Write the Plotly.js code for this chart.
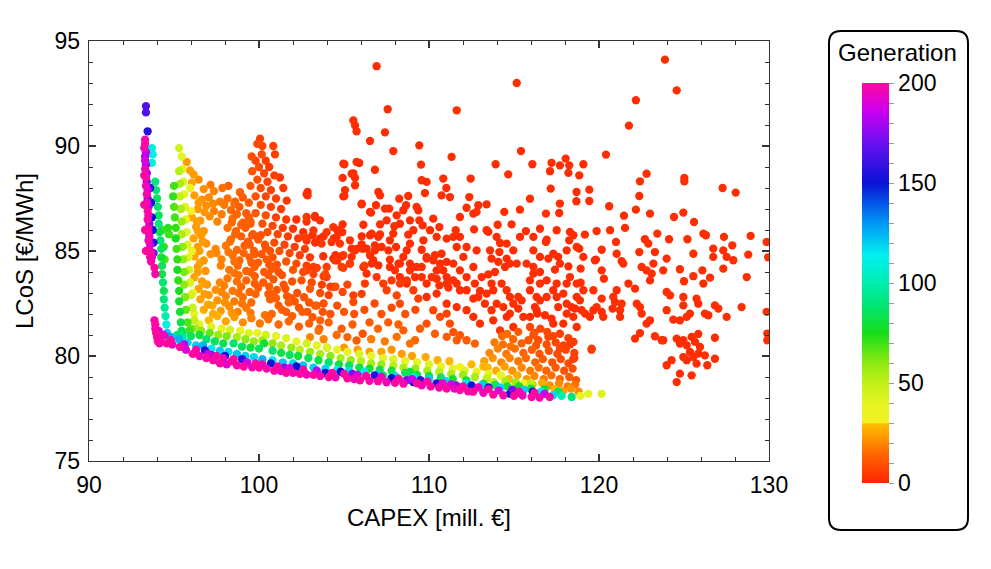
<!DOCTYPE html>
<html><head><meta charset="utf-8">
<script src="https://cdn.plot.ly/plotly-3.0.1.min.js"></script>
<style>html,body{margin:0;padding:0;background:#fff}#chart{width:991px;height:569px}</style>
</head><body><div id="chart"></div>
<script>
// ---------- tick labels ----------
const xTickVals = [90, 100, 110, 120, 130];
const yTickVals = [75, 80, 85, 90, 95];
const genTickVals = [0,10,20,30,40,50,60,70,80,90,100,110,120,130,140,150,160,170,180,190,200];
const genTickText = ['0','','','','','50','','','','','100','','','','','150','','','','','200'];

// ---------- data: [CAPEX, LCoS, generation] ----------
const leftColumn = [
[93.35,91.9,165],[93.35,91.6,165],[93.45,90.7,155],
[93.3,90.3,195],[93.3,90.1,200],[93.25,89.9,195],[93.35,89.7,185],[93.3,89.5,180],[93.3,89.3,190],[93.35,89.1,178],
[93.3,88.9,195],[93.4,88.7,182],[93.35,88.5,198],[93.4,88.3,175],[93.35,88.1,195],[93.45,87.9,185],[93.4,87.7,198],
[93.45,87.5,170],[93.4,87.3,195],[93.5,87.1,180],[93.45,86.9,200],[93.5,86.7,190],[93.45,86.5,198],[93.55,86.3,175],
[93.5,86.1,195],[93.5,85.9,200],[93.55,85.7,190],[93.5,85.5,198],[93.6,85.3,185],[93.55,85.1,195],[93.65,84.9,200],
[93.6,84.7,195],[93.65,84.5,198],[93.25,88.6,200],[93.25,87.2,200],[93.3,86.0,200],[93.35,85.0,200],
[93.6,88.0,158],[93.65,87.3,155],[93.7,86.6,150],[93.75,86.0,152],[93.8,85.4,155],[93.8,84.9,170],[93.7,84.7,190],
[93.85,84.2,200],[93.9,83.9,198],[93.7,89.9,110],[93.75,89.6,112],[93.7,89.2,108],
[93.85,81.7,198],[93.9,81.5,200],[93.9,81.3,195],[93.95,81.1,200],[94.0,80.9,198],[94.05,80.7,200],[94.1,81.2,190],[94.15,80.6,195]
];
const greenColumn = [
[93.9,88.3,90],[93.95,87.9,88],[94.0,87.5,85],[94.05,87.1,88],[94.1,86.7,85],[94.1,86.3,90],[94.15,85.9,82],[94.2,85.5,88],
[94.25,85.1,85],[94.25,84.7,80],[94.3,84.3,85],[94.3,83.9,82],[94.35,83.5,88],[94.4,83.1,84],[94.4,82.7,90],[94.45,82.3,95],
[94.5,81.9,100],[94.55,81.5,110],[94.6,81.1,120],[94.7,80.9,130],[94.3,86.0,70],[94.4,85.2,72],[94.45,84.6,68],
[94.65,86.1,72],[94.7,85.8,70]
];
const yellowColumn = [
[95.0,88.1,70],[94.95,87.6,72],[95.0,87.1,68],[95.05,86.6,70],[95.1,86.1,72],[95.1,85.6,75],[95.15,85.1,70],[95.2,84.6,72],
[95.2,84.1,75],[95.25,83.6,72],[95.3,83.1,75],[95.3,82.6,78],[95.35,82.1,80],[95.4,81.6,82],[95.45,81.2,85],[95.2,81.0,90],[95.5,80.9,95],
[95.3,88.8,52],[95.35,88.2,55],[95.35,87.6,50],[95.4,87.0,55],[95.45,86.4,58],[95.45,85.8,55],[95.5,85.2,60],[95.55,84.6,58],
[95.6,84.0,62],[95.6,83.4,60],[95.65,82.8,62],[95.7,82.2,65],[95.8,81.6,68],[95.9,81.2,70],
[95.3,89.9,45],[95.45,89.5,40],[95.5,88.9,38],[95.55,88.3,42],[95.6,87.7,40],[95.65,87.1,42],[95.7,86.5,38],[95.75,85.9,40],
[95.8,85.3,42],[95.85,84.7,40],[95.9,84.1,45],[95.95,83.5,42],[96.0,82.9,45],[96.1,82.3,48],[96.2,81.7,50],[96.3,81.3,55],
[95.95,88.0,32],[96.0,86.9,31],[96.05,85.0,32],[96.1,83.0,33],[96.2,82.0,34]
];
const spikeRidge = [
[100.06,90.35,6],[99.9,90.1,8],[100.2,90.0,7],[100.84,90.0,6],[100.94,89.6,6],[99.57,89.5,9],[100.16,89.6,8],[99.8,89.3,7],
[100.4,89.3,6],[100.0,89.0,8],[100.6,89.0,5],[99.6,88.8,10],[100.3,88.7,7],[100.9,88.6,6],[99.9,88.4,9],[100.5,88.3,7],
[101.23,88.5,4],[99.5,88.1,11],[100.1,88.0,8],[100.7,87.9,6],[101.43,88.0,4],[99.8,87.6,10],[100.4,87.6,8],[101.0,87.5,6],
[101.63,87.4,4],[99.4,87.3,12],[100.1,87.2,9],[100.7,87.1,7],[101.3,87.0,5],[99.8,86.8,11],[100.4,86.7,9],[101.0,86.6,6],
[101.6,86.5,5],[99.5,86.4,13],[100.2,86.3,10],[100.8,86.2,7],[101.4,86.1,5],[102.0,86.06,4],
[100.5,85.9,9],[101.1,85.8,7],[101.7,85.7,6],[102.3,85.6,4],[100.9,85.4,9],[101.5,85.3,7],[102.1,85.2,6],[102.7,85.1,5],
[101.2,85.0,10],[101.8,84.9,8],[102.4,84.8,6],[103.0,84.7,5],[101.6,84.5,10],[102.2,84.4,8],[102.8,84.3,6],[103.4,84.2,5],
[102.0,84.1,11],[102.6,84.0,8],[103.2,83.9,7],[103.8,83.8,5],[102.5,83.6,10],[103.1,83.5,8],[103.7,83.4,6],[104.2,83.3,5],
[103.0,83.2,11],[103.6,83.0,9],[104.1,82.9,7],
[102.8,86.62,4],[104.37,86.14,3],[103.98,85.9,4],[103.2,85.98,4],[102.7,85.67,5],[103.68,85.35,4],[104.27,85.43,3],
[104.76,85.35,3],[105.35,85.51,3],[105.65,85.03,3],[103.2,84.24,5],[102.8,84.08,6],[104.96,84.8,4],[105.45,84.72,3],
[104.47,84.56,4],[104.86,84.24,5],[103.98,84.24,5],[103.98,83.76,6]
];
const orangeCloud = [
[95.75,89.24,24],[95.94,88.84,24],[96.15,88.65,23],[96.05,88.25,25],[96.45,88.4,21],[98.2,88.1,13],[97.15,88.15,18],
[96.75,87.95,21],[97.35,87.85,19],[98.88,87.8,13],[97.85,88.0,16],
[96.2,87.65,24],[96.65,87.45,22],[97.05,87.55,20],[97.7,87.35,18],[98.15,87.5,16],[98.55,87.25,15],[99.05,87.55,12],
[96.4,87.0,23],[96.9,87.15,21],[97.35,86.9,19],[98.35,86.95,15],[98.85,87.1,13],[99.25,86.8,12],
[96.05,86.6,25],[96.55,86.45,23],[97.1,86.65,21],[97.55,86.4,19],[98.45,86.55,15],[99.05,86.35,13],
[96.3,86.15,24],[96.75,85.95,22],[98.15,86.1,16],[98.65,85.95,14],[99.2,86.1,12],[99.65,85.8,11],
[96.15,85.6,25],[96.6,85.75,23],[98.35,85.55,15],[98.95,85.7,13],[99.35,85.45,12],[99.95,85.55,11],[100.35,85.3,10],
[96.4,85.2,24],[96.9,85.35,22],[97.45,85.1,20],[98.05,85.25,17],[98.7,85.05,15],[99.15,85.25,13],[99.7,85.0,12],[100.15,84.85,11],[100.65,85.0,10],
[96.2,84.75,25],[96.75,84.55,23],[97.15,84.85,21],[97.8,84.6,19],[98.45,84.8,16],[98.85,84.55,14],[99.45,84.7,13],[99.95,84.45,12],[100.45,84.6,11],[101.05,84.35,10],
[96.4,84.25,24],[96.85,84.05,22],[97.75,84.3,19],[98.25,84.1,17],[98.75,84.3,15],[99.25,84.05,14],[99.75,84.25,13],[100.3,84.0,12],[100.75,84.15,11],[101.35,83.85,10],
[96.2,83.75,25],[96.65,83.55,24],[98.15,83.7,17],[98.8,83.85,16],[99.25,83.6,14],[99.75,83.8,13],[100.25,83.5,12],[100.85,83.65,11],[101.45,83.4,10],[101.95,83.55,10],
[96.45,83.2,25],[96.95,83.4,23],[97.45,83.15,21],[97.95,83.35,19],[98.45,83.1,17],[98.95,83.3,15],[99.45,83.05,14],[99.95,83.25,13],[100.55,82.95,12],[101.05,83.15,11],[101.65,82.85,11],[102.25,83.0,10],
[96.55,82.7,25],[97.05,82.9,24],[97.55,82.65,22],[98.05,82.85,20],[98.55,82.6,18],[99.05,82.8,16],[99.55,82.55,15],[100.65,82.7,13],[101.15,82.4,12],[101.75,82.55,12],[102.35,82.3,11],[102.95,82.55,10],
[96.75,82.2,26],[97.25,82.4,25],[97.75,82.15,23],[98.25,82.35,21],[98.75,82.1,19],[99.25,82.3,17],[100.75,82.0,14],[101.35,82.2,13],[101.95,81.9,12],[102.55,82.1,12],[103.15,81.85,11],[103.75,82.1,10],
[97.05,81.7,28],[97.55,81.9,27],[98.05,81.65,25],[98.55,81.85,23],[99.05,81.6,21],[99.55,81.8,19],[100.05,81.55,17],[100.55,81.75,16],[101.15,81.5,15],[101.75,81.65,14],[102.35,81.4,13],[102.95,81.55,12],[103.55,81.3,12],
[96.45,87.3,23],[97.3,87.25,20],[97.95,87.2,17],[98.6,87.35,14],[96.8,86.85,22],[97.8,86.75,18],[98.7,86.75,14],[99.4,86.6,12],
[96.35,86.4,24],[98.4,86.35,15],[98.95,86.25,13],[99.5,86.3,11],[96.4,85.95,24],[98.6,85.8,14],[99.6,85.75,11],[100.1,85.75,10],
[96.7,85.45,23],[98.3,85.45,16],[99.45,85.3,12],[100.4,85.15,10],[96.5,85.0,24],[97.5,84.9,20],[98.2,84.95,17],[99.1,84.9,14],
[99.75,84.85,12],[100.8,84.7,10],[96.55,84.45,24],[98.55,84.5,16],[99.55,84.45,13],[100.6,84.35,11],[96.4,84.0,24],[98.55,83.95,16],
[99.5,84.0,13],[100.55,83.85,11],[101.15,84.0,10],[96.75,83.45,24],[97.7,83.5,20],[98.7,83.55,16],[99.75,83.45,13],[100.6,83.3,12],
[101.55,83.2,10],[96.8,82.95,24],[97.8,83.05,20],[98.8,83.0,16],[99.8,82.95,14],[100.8,82.95,12],[101.9,82.75,11],[97.0,82.45,25],
[98.0,82.55,21],[99.0,82.5,17],[101.0,82.75,13],[102.1,82.6,11],[102.65,82.8,10],[97.3,82.0,26],[98.4,82.05,22],[99.5,82.05,18],
[100.35,81.95,16],[101.6,82.1,13],[102.85,82.1,11],[103.4,82.4,10]
];
const orangeRight = [
[104.2,82.0,10],[104.86,81.3,12],[105.2,80.9,14],[105.74,80.74,12],[106.1,81.06,10],[104.57,81.0,15],[103.5,81.2,16],
[104.5,83.3,8],[105.2,83.4,7],[106.04,82.96,6],[105.55,82.57,8],[103.9,83.9,7],[104.96,84.2,6],[105.35,84.4,5],[106.2,84.3,5],
[104.37,83.29,6],[104.92,83.05,7],[105.55,82.89,6],[106.23,83.45,5],[106.92,83.76,4],[107.31,83.45,5],[107.8,83.6,4],
[108.29,83.45,5],[108.69,83.6,4],[107.51,83.13,6],[108.1,82.89,7],[108.29,82.49,8],[109.08,83.13,5],[109.37,82.73,6],
[103.3,82.4,12],[103.8,82.5,10],[104.6,82.4,9],[105.0,82.1,11],[105.6,82.0,10],[106.2,82.2,9],[106.8,82.5,8],[107.2,82.0,10],
[107.8,82.3,9],[108.6,82.0,10],[109.2,82.2,8],[103.6,81.7,14],[104.1,81.6,13],[105.5,81.5,13],[106.5,81.6,12],[107.0,81.3,14],
[107.6,81.6,12],[108.2,81.5,13],[108.49,81.22,13],[108.1,80.91,16],[109.18,80.75,14],[108.88,80.59,16],[109.86,81.54,10],
[109.47,81.3,12],[110.35,81.06,12],[110.25,82.18,7],[110.65,81.86,8],[111.04,82.02,7],[111.23,81.54,9],[111.43,81.14,10],
[111.63,80.75,12],[111.82,80.99,11],[112.21,80.75,12],[112.7,80.59,13],[111.04,80.91,12],[106.6,80.8,18],[107.4,80.7,18],
[103.0,80.9,20],[103.8,80.8,19],[104.0,80.4,22],[105.0,80.4,22],[105.8,80.3,24],[106.5,80.2,24],[107.2,80.2,25],
[107.8,80.3,22],[108.4,80.1,24],[109.0,80.0,25],[109.8,79.95,26],[110.5,79.8,27],[111.2,79.75,28],[111.82,79.48,30],
[112.5,79.6,28],[113.2,79.5,28]
];
const orangeTriangle = [
[114.6,81.05,15],[115.25,81.15,12],[115.94,81.38,8],[116.14,80.99,10],[116.95,81.15,8],[117.7,81.06,6],[116.55,81.3,7],
[113.85,80.65,18],[114.35,80.55,16],[114.95,80.8,14],[115.45,80.6,13],[115.85,80.75,11],[116.43,80.75,9],[117.02,80.91,7],
[116.92,80.55,9],[117.45,80.65,7],[117.9,80.5,6],[118.49,80.67,5],
[113.55,80.15,20],[114.05,80.35,19],[114.55,80.1,17],[115.05,80.35,16],[115.55,80.15,14],[116.05,80.3,13],[116.5,80.1,11],
[117.05,80.25,10],[117.55,80.1,8],[118.05,80.3,7],[118.55,80.15,6],
[113.25,79.75,24],[113.75,79.9,22],[114.25,79.7,20],[114.75,79.9,19],[115.25,79.75,17],[115.7,79.9,15],[116.25,79.7,14],
[116.7,79.85,12],[117.25,79.7,10],[117.75,79.85,9],[118.2,79.65,8],[118.55,79.9,6],
[113.45,79.45,28],[113.95,79.3,26],[114.45,79.5,24],[114.9,79.3,22],[115.45,79.45,20],[115.95,79.3,18],[116.45,79.45,16],
[116.9,79.3,14],[117.45,79.45,12],[117.95,79.3,10],[118.45,79.4,9],
[114.25,79.05,30],[114.7,78.9,28],[115.2,79.08,26],[115.75,78.9,23],[116.2,79.05,20],[116.75,78.9,18],[117.2,79.08,16],
[117.7,78.9,14],[118.25,79.0,12],[118.65,78.85,11],
[115.6,78.7,30],[116.1,78.65,28],[116.65,78.72,26],[117.1,78.6,22],[117.65,78.7,20],[118.15,78.55,17],[118.6,78.65,16],
[117.4,78.42,28],[117.9,78.35,24],[118.35,78.45,22],[118.8,78.3,20],[119.57,80.35,5],[119.56,80.3,4],
[114.3,80.95,15],[116.2,81.1,9],[117.3,80.95,7],[118.2,80.85,5],[114.8,80.45,16],[116.3,80.5,11],[117.7,80.35,7],[118.3,80.55,5]
];
const redGeneration = 2;
const redScatter = [
[123.88,94.11],[106.92,93.80],[115.16,93.0],[124.57,92.65],[122.17,92.18],[107.57,91.75],[111.63,91.7],[105.55,91.22],
[105.65,90.98],[105.74,90.7],[121.76,90.97],[107.41,90.65],[106.53,90.24],[109.43,90.03],[107.9,89.76],[115.41,89.76],
[120.41,89.59],[111.33,89.48],[118.04,89.40],[117.7,89.08],[118.25,89.08],[117.21,89.2],[116.08,89.13],[113.92,89.13],
[119.08,89.13],[105.02,89.13],[105.9,89.19],[109.53,89.11],[104.96,89.16],[105.74,89.24],[105.55,88.7],[105.06,87.9],[104.96,87.6],
[106.82,88.87],[114.66,88.65],[122.8,88.68],[117.12,88.8],[118.2,88.72],[118.84,88.6],[105.45,88.68],[105.65,88.48],
[104.92,88.48],[125.02,88.48],[125.02,88.32],[109.57,88.37],[109.86,88.29],[112.45,88.45],[110.84,88.45],[122.41,88.32],
[105.65,88.13],[127.27,88.0],[128.04,87.78],[117.16,87.97],[111.02,88.0],[119.43,87.92],[118.68,87.81],[107.02,87.81],
[107.12,87.65],[102.86,87.81],[102.86,87.65],[105.02,87.62],[109.76,87.76],[110.74,87.65],[111.23,87.57],[112.37,87.57],
[108.25,87.49],[108.78,87.62],[122.37,87.62],[115.94,87.49],[117.7,87.26],[118.67,87.37],[119.43,87.38],[106.04,87.22],
[106.53,86.86],[106.88,87.18],[107.66,87.02],[108.65,87.18],[109.27,87.1],[112.9,87.18],[113.39,87.22],[112.21,87.06],
[120.6,87.13],[124.96,86.83],[122.17,86.97],[106.04,87.25],[102.8,87.7],
[103.29,86.67],[103.59,86.46],[106.59,86.83],[108.49,86.94],[109.37,86.94],[110.25,86.54],[111.82,86.62],[112.61,86.78],
[112.8,86.86],[114.43,86.86],[115.35,86.97],[116.88,86.78],[117.66,86.81],[121.47,86.68],[123.0,86.78],[124.41,86.62],
[125.59,86.38],[104.92,86.27],[104.63,85.99],[106.14,86.25],[107.12,86.27],[107.96,86.18],[107.9,85.83],[108.88,86.46],
[109.43,86.46],[109.63,86.22],[110.61,86.14],[112.65,86.03],[114.04,86.25],[114.86,86.27],[116.53,86.06],[117.51,85.99],
[119.86,85.95],[120.65,85.99],[121.53,86.1],[102.2,86.5],[102.8,86.4],[103.3,86.6],[102.6,85.9],[102.8,85.5],[103.3,85.4],
[103.8,85.7],[104.6,86.0],[104.9,85.9],[104.4,85.6],[106.04,85.7],[105.74,85.1],[106.1,85.1],[104.5,84.8],[104.6,84.55],
[115.7,85.95],[116.14,85.67],[116.88,85.43],[118.29,85.91],[118.49,85.75],[118.25,85.51],[119.17,85.78],[121.0,85.43],
[122.7,85.56],[122.9,85.35],[123.43,85.83],[124.12,85.56],[125.2,85.56],[126.14,85.83],[126.29,85.75],[127.35,85.67],
[128.92,85.72],[129.86,85.43],[113.49,85.91],[111.57,85.99],[111.43,85.67],[106.63,85.83],[107.12,85.79],[108.78,85.78],
[103.15,85.75],[103.59,85.59],[104.57,85.67],[105.45,85.11],[106.04,85.32],[126.72,85.11],[127.31,85.03],[127.84,85.27],
[126.72,84.72],[127.51,84.72],[128.78,84.83],[106.82,85.27],[108.06,85.19],[108.69,85.03],[109.57,85.06],[110.74,84.87],
[111.63,85.19],[114.18,85.38],[114.14,84.95],[116.92,85.54],[118.84,85.11],[120.16,85.06],[119.82,84.59],[121.33,84.52],
[121.04,84.87],[122.37,84.95],[123.29,84.95],
[103.78,84.75],[104.37,84.64],[104.86,84.75],[105.35,84.4],[106.53,84.8],[106.72,84.56],[107.7,84.59],[108.2,84.4],
[108.88,84.4],[109.86,84.64],[110.25,84.56],[111.04,84.48],[113.68,84.64],[114.08,84.48],[114.57,84.64],[114.47,84.24],
[114.76,84.4],[113.88,84.0],[113.1,83.76],[113.49,83.89],[116.14,83.92],[115.94,83.6],[116.53,84.0],[117.02,84.64],
[117.6,84.72],[117.7,84.4],[118.2,84.27],[117.41,84.11],[118.92,84.16],[118.29,83.76],[118.92,83.49],[119.76,84.56],
[120.16,84.08],[120.29,83.68],[121.43,84.4],[122.51,84.24],[122.8,84.08],[123.1,83.92],[123.78,84.08],[123.0,83.6],
[124.76,84.13],[125.0,83.56],[125.55,83.8],[126.08,84.08],[126.53,83.73],[127.31,84.16],[128.69,83.76],[129.95,84.7],
[106.53,85.75],[107.02,85.67],[107.21,85.19],[106.33,85.11],[106.63,84.4],[107.02,84.32],[106.82,85.03],[106.14,84.24],
[106.33,83.92],[107.61,85.03],[107.7,84.24],[108.0,84.08],[108.29,84.4],[108.49,84.72],[108.29,83.76],[108.69,83.45],
[109.18,83.76],[108.88,84.08],[109.27,84.24],[109.57,84.24],[109.86,84.72],[110.35,84.8],[110.65,84.4],[110.84,84.08],
[111.04,83.76],[110.45,84.08],[110.16,83.76],
[107.41,87.02],[108.1,86.7],[107.51,86.46],[108.29,86.3],[109.08,85.99],[110.06,85.99],[110.45,85.67],[109.67,85.51],
[108.88,85.35],[107.7,85.51],[111.04,85.59],[111.82,85.67],[112.21,85.19],[112.8,85.03],[112.02,84.72],[112.61,84.24],
[111.43,84.4],[111.82,84.08],[112.21,83.76],[112.7,83.45],[111.04,83.45],[110.45,82.97],[109.86,82.81],[111.04,82.49],
[111.63,82.33],[112.21,82.18],[112.61,81.86],[113.0,81.54],[113.78,81.7],[114.57,81.86],[114.18,81.22],[114.96,81.38],
[113.39,85.99],[113.98,85.67],[114.57,85.35],[114.96,85.03],[113.59,85.03],[115.35,85.67],[116.14,85.03],[116.53,84.72],
[117.31,84.87],[118.1,85.03],[118.69,85.19],[119.08,84.72],[115.16,84.4],[115.74,84.4],[116.14,84.24],[116.92,83.6],
[117.51,83.45],[118.1,83.45],[118.69,83.45],[119.08,83.13],[115.94,83.13],[116.53,83.45],[117.31,83.13],[118.1,82.02],
[118.49,81.86],[118.98,82.18],[117.31,81.54],[117.9,81.54],[118.69,81.38],[119.67,83.13],[120.16,82.73],[121.24,82.18],
[121.73,83.45],[121.04,83.13],[123.98,84.64],[123.2,84.4],[125.55,84.87],[127.9,84.56],[126.14,83.45],
[109.57,83.76],[109.86,83.45],[110.45,83.68],[110.61,83.36],[111.14,83.26],[111.43,83.6],[111.63,83.45],[111.82,83.13],
[112.21,83.13],[112.61,82.73],[113.0,83.1],[113.39,82.97],[113.68,83.45],[113.78,83.13],[114.27,83.45],[114.57,83.13],
[114.76,82.81],[115.25,82.81],[115.45,82.65],[114.96,82.49],[116.33,82.81],[116.53,82.65],[116.92,82.81],[116.23,82.33],
[116.33,82.18],[116.82,81.94],[117.21,81.78],[117.51,82.81],[117.9,82.97],[117.6,82.33],[118.1,82.49],[118.39,82.33],
[118.69,82.81],[118.88,82.65],[118.59,82.26],[119.18,82.02],[119.47,81.86],[119.67,82.18],[119.86,82.33],[120.16,82.1],
[120.84,82.81],[120.94,82.57],[120.8,82.26],[120.25,81.86],[121.33,82.49],[121.24,81.86],[122.12,83.21],[122.22,82.49],
[122.41,82.33],[122.51,82.02],[122.8,81.54],[123.0,81.7],[122.12,80.83],[122.41,81.09],[123.29,80.94],[123.78,80.75],
[123.98,83.05],[124.18,82.89],[123.98,82.18],[124.37,81.73],[124.76,81.7],[124.96,82.81],[124.96,82.41],[125.74,82.73],
[125.84,82.49],[126.23,82.02],[126.43,81.94],[125.35,82.02],[125.16,81.86],[126.82,82.41],[127.02,82.26],[127.51,81.86],
[128.39,82.33],[129.86,82.1],[129.9,81.07],[129.9,80.75],
[112.9,82.81],[113.29,82.49],[113.68,82.18],[113.98,82.49],[114.37,82.33],[114.76,82.02],[115.25,82.26],[115.55,81.86],
[115.94,81.86],[116.37,82.02],
[124.57,80.83],[124.76,80.59],[124.96,80.75],[125.16,80.51],[125.45,80.91],[125.65,80.67],[125.84,81.05],[125.94,80.43],
[125.35,80.19],[125.55,79.95],[125.16,79.8],[125.84,80.11],[126.23,80.03],[126.37,79.56],[126.82,79.87],[126.82,80.87],
[123.98,79.56],[124.27,79.8],[124.76,79.16],[124.57,78.76],[125.45,79.08],[123.69,80.75],[124.96,79.95],[125.74,79.64],
[118.49,80.67],[118.49,79.87]
];
const frontierMagenta = [
[94.2,80.8,198],[94.57,80.6,200],[94.9,80.55,195],[95.35,80.43,200],[95.7,80.3,190],[96.1,80.1,200],[96.5,80.0,196],
[96.9,79.9,200],[97.3,79.8,198],[97.7,79.65,200],[98.1,79.6,192],[98.4,79.75,200],[98.7,79.56,198],[99.1,79.5,200],
[99.6,79.46,196],[100.0,79.45,200],[100.45,79.4,198],[100.9,79.3,200],[101.3,79.28,195],[101.6,79.2,200],[102.0,79.2,198],
[102.4,79.15,200],[102.8,79.12,196],[103.2,79.1,200],[103.6,79.05,198],[104.1,79.0,200],[104.5,78.98,196],[105.2,78.94,200],
[105.6,78.9,195],[105.94,78.84,200],[106.5,78.82,198],[107.0,78.8,200],[107.5,78.75,196],[108.0,78.72,200],[108.5,78.68,198],
[109.3,78.7,200],[109.57,78.6,196],[110.1,78.55,200],[110.6,78.5,198],[111.04,78.45,200],[111.5,78.45,195],[111.82,78.38,200],
[112.3,78.32,198],[112.6,78.3,200],[113.2,78.25,196],[113.78,78.16,200],[114.37,78.13,198],[115.0,78.1,200],[115.5,78.12,196],
[116.04,78.05,200],[116.5,78.02,198],[117.1,78.05,200],
[94.4,81.0,195],[94.8,80.75,200],[95.6,80.55,185],[96.3,80.3,198],[97.0,80.1,190],[97.5,80.0,200],[97.9,79.9,195],
[98.5,79.85,200],[99.3,79.7,188],[99.8,79.65,200],[100.2,79.6,195],[101.1,79.5,200],[101.8,79.42,190],[102.6,79.35,200],
[103.4,79.3,185],[104.3,79.2,200],[105.0,79.15,198],[105.8,79.1,190],[106.3,79.05,200],[107.2,79.0,195],[108.2,78.92,198],
[109.0,78.9,185],[109.9,78.78,200],[110.8,78.7,195],[111.3,78.65,188],[112.0,78.55,200],[112.9,78.5,195],[113.5,78.42,200],
[114.1,78.35,190],[115.3,78.3,198],[116.2,78.25,200],[116.8,78.2,185]
];
const frontierBluePurple = [
[96.82,80.27,155],[98.0,80.0,150],[99.0,79.85,158],[100.7,79.65,152],[102.2,79.5,150],[103.9,79.2,152],[104.8,79.25,150],
[106.8,79.08,155],[107.8,78.95,150],[109.07,78.76,150],[109.5,78.85,160],[110.45,78.7,155],[112.5,78.6,152],[113.5,78.5,150],
[114.76,78.2,150],[115.2,78.25,155],[116.1,78.3,150],
[97.2,80.05,175],[101.5,79.45,178],[105.5,79.15,172],[108.7,78.85,175],[111.6,78.6,178],[114.9,78.4,172]
];
const bandCyan = [
[94.9,80.9,120],[95.3,80.8,125],[95.8,80.65,118],[96.3,80.5,120],[96.7,80.5,125],[97.2,80.35,115],[97.7,80.25,120],
[98.2,80.2,118],[98.7,80.1,122],[99.2,80.0,120],[99.7,79.95,118],[100.2,79.85,125],[100.8,79.8,115],[101.4,79.7,120],
[102.0,79.65,118],[102.6,79.55,122],[103.2,79.45,120],[103.9,79.4,118],[104.6,79.35,115],[105.55,78.92,120],[105.3,79.3,118],
[106.2,79.25,115],[107.0,79.15,120],[108.0,79.05,118],[109.1,78.98,115],[110.0,78.9,120],[111.0,78.8,118],[112.2,78.7,115],
[113.1,78.6,120],[114.2,78.5,118],[115.6,78.4,120],[116.6,78.3,115],[117.3,78.13,118]
];
const bandGreen = [
[95.5,81.0,88],[96.0,80.95,85],[96.5,81.0,80],[96.9,80.8,88],[97.4,80.7,85],[97.9,80.6,82],[98.5,80.6,88],[99.0,80.45,85],
[99.5,80.4,80],[100.0,80.35,85],[100.3,80.6,78],[100.8,80.25,88],[101.3,80.15,82],[101.8,80.05,85],[102.3,80.0,80],
[102.9,79.9,85],[103.5,79.8,82],[104.1,79.7,88],[104.7,79.6,80],[105.3,79.55,85],[105.9,79.45,82],[106.5,79.4,78],
[107.3,79.08,85],[107.1,79.35,80],[107.8,79.3,82],[108.3,78.84,88],[108.88,79.24,80],[108.6,79.2,85],[109.3,79.1,82],
[110.0,79.05,80],[110.7,78.98,85],[111.4,78.9,78],[112.2,78.84,80],[113.2,78.68,82],[113.9,78.62,85],[114.6,78.55,80],
[115.3,78.55,78],[116.0,78.45,82],[116.8,78.42,80],[117.6,78.3,85],[118.39,78.05,90],[117.8,78.1,100]
];
const bandYellowGreen = [
[96.0,81.3,65],[96.6,81.2,60],[97.1,81.1,65],[97.6,81.0,58],[98.1,80.95,62],[98.7,80.9,55],[99.2,80.8,60],[99.7,80.7,58],
[100.2,80.75,55],[100.8,80.6,60],[101.3,80.5,55],[101.9,80.4,58],[102.4,80.3,52],[103.0,80.2,58],[103.6,80.1,55],
[104.2,80.0,60],[104.8,79.9,55],[105.4,79.8,58],[106.0,79.75,52],[106.6,79.65,55],[107.2,79.6,58],[107.9,79.55,52],
[108.5,79.45,55],[109.2,79.4,58],[109.9,79.3,55],[110.6,79.25,52],[111.3,79.15,55],[112.0,79.1,58],[112.7,79.0,55],
[113.8,78.76,52],[113.4,78.95,50],[114.5,78.8,55],[115.1,78.75,58],[116.0,78.7,52]
];
const bandYellow = [
[96.5,81.5,40],[97.2,81.4,42],[97.8,81.3,38],[98.3,81.25,45],[98.9,81.2,40],[99.4,81.1,42],[99.9,81.1,38],[100.4,81.0,45],
[101.0,80.95,40],[101.6,80.85,42],[102.2,80.7,38],[102.8,80.6,45],[103.4,80.5,40],[104.0,80.4,42],[104.6,80.3,38],
[105.2,80.2,40],[105.9,80.1,42],[106.6,80.0,38],[107.3,79.9,40],[107.9,79.85,42],[108.6,79.75,38],[109.3,79.7,40],
[110.0,79.6,42],[110.7,79.5,38],[111.4,79.4,40],[112.1,79.3,42],[112.8,79.25,38],[113.5,79.15,40],[114.2,79.1,38],
[119.37,78.2,40],[120.15,78.2,42],[118.9,78.1,38]
];

// ---------- build ----------
const redTriples = redScatter.map(p => [p[0], p[1], redGeneration]);
const allPts = [].concat(redTriples, spikeRidge, orangeRight, orangeTriangle, orangeCloud, yellowColumn, greenColumn,
  leftColumn, bandYellow, bandYellowGreen, bandGreen, bandCyan, frontierBluePurple, frontierMagenta)
  .sort((a, b) => a[2] - b[2]);

const colorscale = [
 [0,'#ff2400'],[0.07,'#ff6400'],[0.148,'#ffbf00'],[0.15,'#f2f222'],[0.2,'#e4f422'],[0.25,'#c2f018'],
 [0.3,'#8eea12'],[0.375,'#16de1a'],[0.45,'#00e67a'],[0.5,'#00eeb0'],[0.57,'#00f0f0'],[0.65,'#0096f4'],
 [0.75,'#0812d6'],[0.85,'#6a10f0'],[0.93,'#cc00f0'],[1,'#ff08a0']
];

const tickFont = {family: 'Liberation Sans, Arial, sans-serif', size: 23, color: '#000'};
const titleFont = {family: 'Liberation Sans, Arial, sans-serif', size: 24, color: '#000'};

const trace = {
  type: 'scatter', mode: 'markers',
  x: allPts.map(p => p[0]), y: allPts.map(p => p[1]),
  marker: {
    size: 8.3, color: allPts.map(p => p[2]), cmin: 0, cmax: 200, colorscale: colorscale,
    line: {width: 0}, opacity: 1,
    colorbar: {
      x: 1.1368, xanchor: 'left', y: 0.4238, yanchor: 'middle',
      len: 400, lenmode: 'pixels', thickness: 27, thicknessmode: 'pixels',
      outlinewidth: 0, xpad: 0, ypad: 0,
      ticks: 'outside', ticklen: 5, tickwidth: 1, tickcolor: '#999',
      tickvals: genTickVals, ticktext: genTickText, tickfont: tickFont
    }
  },
  hoverinfo: 'x+y', showlegend: false
};

// rounded box around the colour bar (paper coords)
const L = 1.08824, R = 1.29265, T = 1.02381, B = -0.16429, rx = 0.01765, ry = 0.02857;
const boxPath = `M ${L+rx},${T} L ${R-rx},${T} Q ${R},${T} ${R},${T-ry} L ${R},${B+ry} Q ${R},${B} ${R-rx},${B} ` +
  `L ${L+rx},${B} Q ${L},${B} ${L},${B+ry} L ${L},${T-ry} Q ${L},${T} ${L+rx},${T} Z`;

const axisCommon = {
  showgrid: false, zeroline: false, showline: true, linecolor: '#333', linewidth: 1.3,
  mirror: 'ticks', ticks: 'inside', ticklen: 7, tickwidth: 1.2, tickcolor: '#333',
  tickfont: tickFont, automargin: false
};
const layout = {
  width: 991, height: 569,
  margin: {l: 89, r: 222, t: 41, b: 108},
  paper_bgcolor: '#fff', plot_bgcolor: '#fff', font: tickFont,
  xaxis: Object.assign({}, axisCommon, {
    range: [90, 130], tickvals: xTickVals, ticklabelstandoff: 3,
    minor: {dtick: 2, tick0: 90, ticks: 'inside', ticklen: 4, tickcolor: '#333', tickwidth: 1},
    title: {text: 'CAPEX [mill. €]', font: titleFont, standoff: 12}
  }),
  yaxis: Object.assign({}, axisCommon, {
    range: [75, 95], tickvals: yTickVals, ticklabelstandoff: 3,
    minor: {dtick: 1, tick0: 75, ticks: 'inside', ticklen: 4, tickcolor: '#333', tickwidth: 1},
    title: {text: 'LCoS [€/MWh]', font: titleFont, standoff: 14}
  }),
  shapes: [{type: 'path', xref: 'paper', yref: 'paper', path: boxPath, line: {color: '#000', width: 2}, layer: 'above'}],
  annotations: [{text: 'Generation', xref: 'paper', yref: 'paper', x: 1.1897, y: 0.9738,
    xanchor: 'center', yanchor: 'middle', showarrow: false, font: titleFont}]
};
Plotly.newPlot('chart', [trace], layout, {displayModeBar: false, staticPlot: true});
</script>
</body></html>
